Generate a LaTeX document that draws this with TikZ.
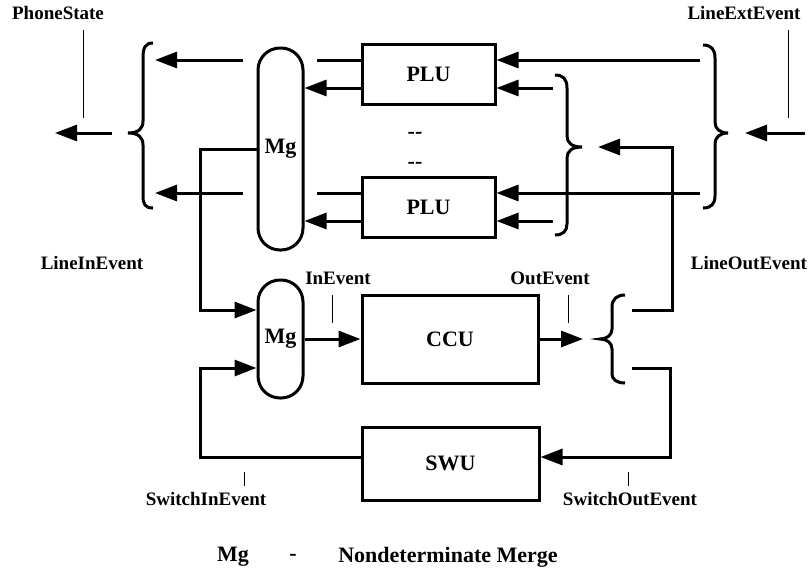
\documentclass[tikz,border=0pt]{standalone}
\usepackage{fontspec}
\setmainfont{Liberation Serif}
\usetikzlibrary{arrows.meta}
\tikzset{
  unit/.style={draw, line width=3pt, font=\bfseries\fontsize{22}{24}\selectfont, inner sep=0pt},
  merge/.style={unit, rounded corners=22pt, minimum width=45pt},
  txt/.style={font=\bfseries\fontsize{22}{24}\selectfont, inner sep=0pt},
  lbl/.style={font=\bfseries\fontsize{19}{21}\selectfont, inner sep=0pt},
  wire/.style={line width=3pt},
  flow/.style={wire, -{Triangle[length=22pt,width=16pt]}},
  tick/.style={line width=1pt},
}
\begin{document}
\begin{tikzpicture}[x=1pt,y=-1pt]
  \useasboundingbox (0,0) rectangle (811,576);
  % units
  \node[unit, minimum width=133pt, minimum height=60pt] (plu1) at (428.5,74) {PLU};
  \node[unit, minimum width=133pt, minimum height=60pt] (plu2) at (428.5,207) {PLU};
  \node[unit, minimum width=176pt, minimum height=88pt] (ccu) at (450,339) {CCU};
  \node[unit, minimum width=177pt, minimum height=73pt] (swu) at (450.5,463.5) {SWU};
  \node[merge, minimum height=202pt] (mg1) at (280.5,149) {Mg};
  \node[merge, minimum height=118pt] (mg2) at (280.5,339) {Mg};
  \node[txt] (dotsa) at (415,135) {-{}-};
  \node[txt] (dotsb) at (415,165) {-{}-};
  % ports
  \coordinate (p1a) at ([yshift=14pt]plu1.west);
  \coordinate (p1b) at ([yshift=-14pt]plu1.west);
  \coordinate (p2a) at ([yshift=14pt]plu2.west);
  \coordinate (p2b) at ([yshift=-14pt]plu2.west);
  \coordinate (m2a) at ([yshift=29pt]mg2.west);
  \coordinate (m2b) at ([yshift=-29pt]mg2.west);
  \coordinate (ext) at (700,0);
  \coordinate (lout) at (553,0);
  \coordinate (ps) at (155,0);
  \coordinate (psb) at (243,0);
  \coordinate (li) at (200,149);
  \coordinate (si) at (200,457);
  \coordinate (so) at (670,457);
  \coordinate (lo) at (672,147);
  \coordinate (ccuout) at (583,339);
  % braces
  \draw[wire] (153,43) .. controls (145,43) and (143,48) .. (143,58) -- (143,121)
    .. controls (143,129) and (138,133) .. (128,133) .. controls (138,133) and (143,137) .. (143,145)
    -- (143,196) .. controls (143,204) and (145,208) .. (153,208);
  \draw[wire] (555,75) .. controls (563,75) and (567,79) .. (567,88) -- (567,136)
    .. controls (567,143) and (572,147) .. (582,147) .. controls (572,147) and (567,151) .. (567,158)
    -- (567,224) .. controls (567,231) and (563,235) .. (555,235);
  \draw[wire] (703,45) .. controls (711,45) and (715,49) .. (715,58) -- (715,122)
    .. controls (715,129) and (720,133) .. (728,133) .. controls (720,133) and (715,137) .. (715,144)
    -- (715,196) .. controls (715,204) and (711,208) .. (703,208);
  \draw[wire] (625,295) .. controls (617,295) and (612,299) .. (612,307) -- (612,329)
    .. controls (612,335) and (607,339) .. (600,339) .. controls (607,339) and (612,343) .. (612,349)
    -- (612,373) .. controls (612,380) and (617,383) .. (625,383);
  % PLU connections
  \draw[wire] (p1a) -- ++(-44,0);
  \draw[wire] (p2a) -- ++(-44,0);
  \draw[flow] (p1a -| psb) -- (p1a -| ps);
  \draw[flow] (p2a -| psb) -- (p2a -| ps);
  \draw[flow] (p1b) -- (p1b -| mg1.east);
  \draw[flow] (p2b) -- (p2b -| mg1.east);
  \draw[flow] (p1a -| ext) -- (p1a -| plu1.east);
  \draw[flow] (p2a -| ext) -- (p2a -| plu2.east);
  \draw[flow] (p1b -| lout) -- (p1b -| plu1.east);
  \draw[flow] (p2b -| lout) -- (p2b -| plu2.east);
  % outer arrows
  \draw[flow] (112,133) -- (55,133);
  \draw[flow] (805,133) -- (745,133);
  % merge and CCU
  \draw[flow] (mg1.west) -- (li) |- (m2a);
  \draw[flow] (si -| swu.west) -- (si) |- (m2b);
  \draw[flow] (mg2.east) -- (ccu.west);
  \draw[flow] (ccu.east) -- (ccuout);
  \draw[flow] (632,310) -| (lo) -- (598,147);
  \draw[flow] (632,368) -| (so) -- (so -| swu.east);
  % ticks
  \draw[tick] (83,30) -- (83,118);
  \draw[tick] (788,30) -- (788,118);
  \draw[tick] (332,295) -- (332,323);
  \draw[tick] (568,295) -- (568,323);
  \draw[tick] (244,472) -- (244,486);
  \draw[tick] (628,472) -- (628,486);
  % labels
  \node[lbl] (phst) at (58,13) {PhoneState};
  \node[lbl] (lext) at (744,13) {LineExtEvent};
  \node[lbl] (linl) at (92,263) {LineInEvent};
  \node[lbl] (loutl) at (749,263) {LineOutEvent};
  \node[lbl] (inev) at (338,278) {InEvent};
  \node[lbl] (outev) at (550,278) {OutEvent};
  \node[lbl] (swin) at (206,499) {SwitchInEvent};
  \node[lbl] (swout) at (630,499) {SwitchOutEvent};
  % legend
  \node[txt] (lgmg) at (233,557) {Mg};
  \node[txt] (lgdash) at (293,557) {-};
  \node[txt] (lgtext) at (448,557) {Nondeterminate Merge};
\end{tikzpicture}
\end{document}
